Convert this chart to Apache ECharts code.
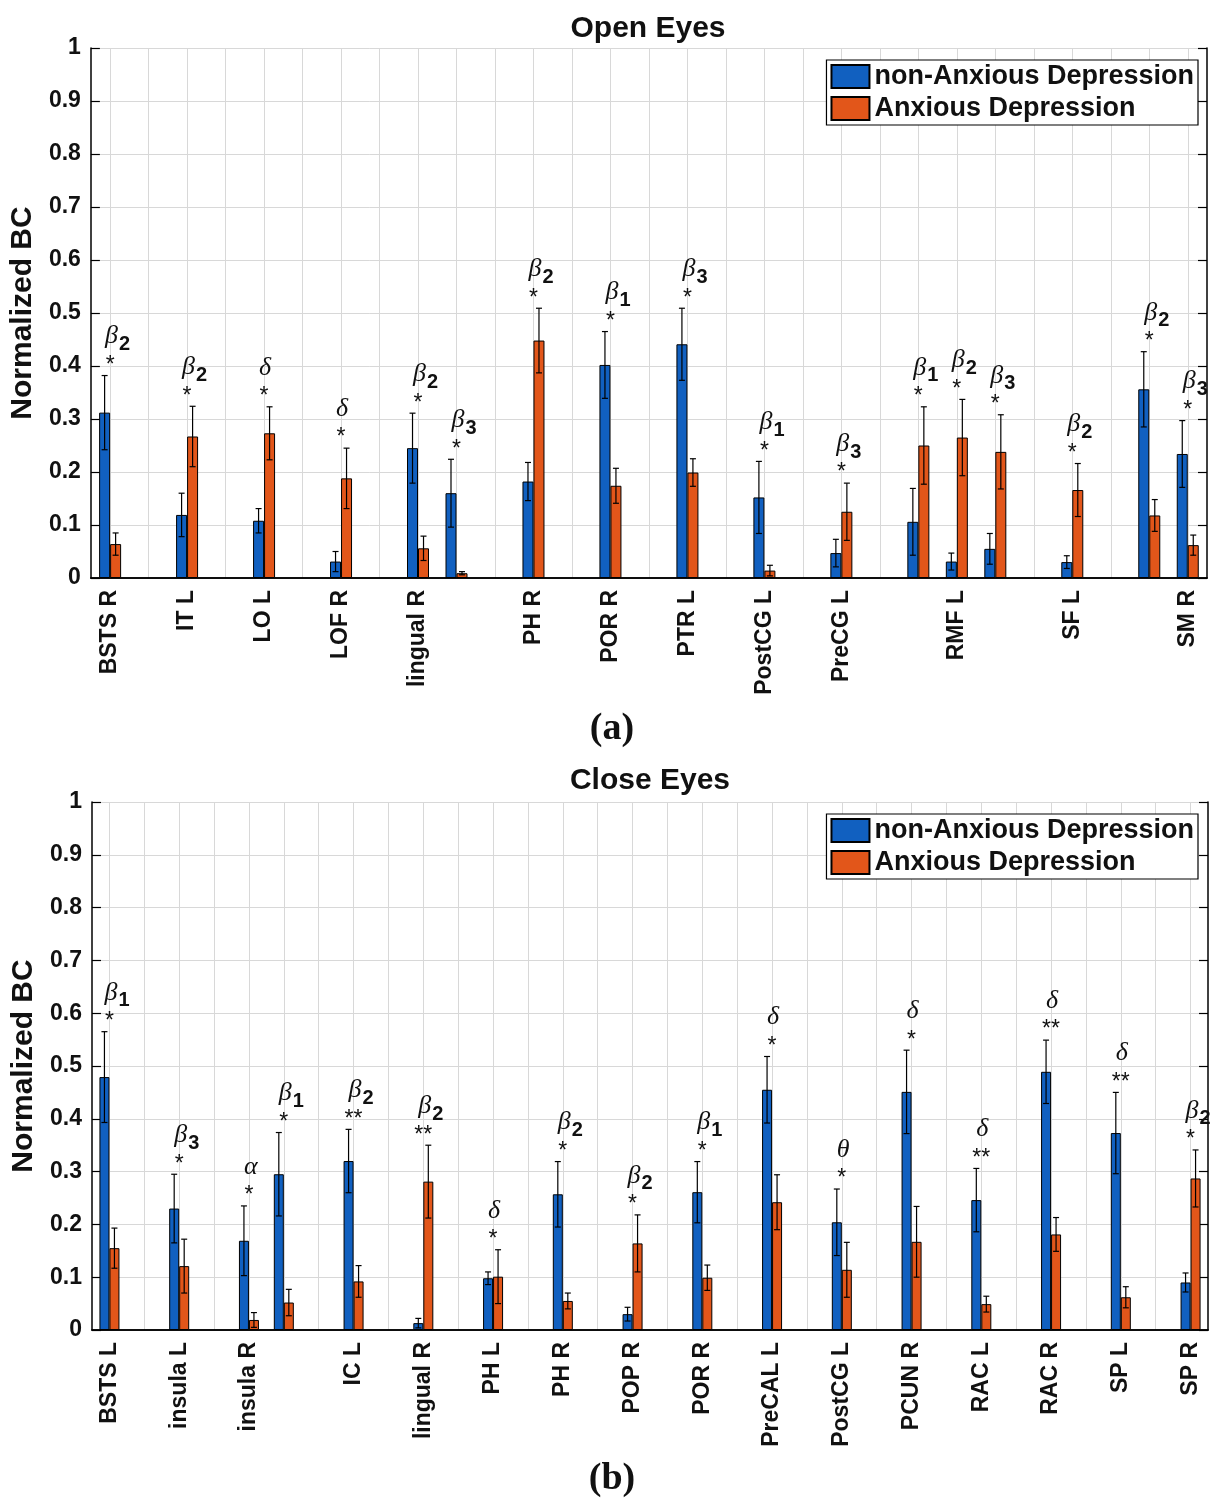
<!DOCTYPE html>
<html>
<head>
<meta charset="utf-8">
<script src="https://cdn.jsdelivr.net/npm/echarts@6/dist/echarts.min.js"></script>
<style>
html,body{margin:0;padding:0;background:#fff;}
#main{width:1210px;height:1501px;}
</style>
</head>
<body>
<div id="main"></div>
<script>
// ---- (a) Open Eyes ----
var openLabels = ['BSTS R','','IT L','','LO L','','LOF R','','lingual R','','','PH R','','POR R','','PTR L','','PostCG L','','PreCG L','','','RMF L','','','SF L','','','SM R'];
var openNonAnx = [0.312, null, 0.119, null, 0.108, null, 0.031, null, 0.245, 0.160, null, 0.182, null, 0.402, null, 0.441, null, 0.152, null, 0.047, null, 0.106, 0.031, 0.055, null, 0.030, null, 0.356, 0.234];
var openNonAnxErr = [0.070, null, 0.041, null, 0.023, null, 0.019, null, 0.066, 0.064, null, 0.036, null, 0.063, null, 0.068, null, 0.068, null, 0.026, null, 0.063, 0.016, 0.029, null, 0.012, null, 0.071, 0.063];
var openAnx = [0.064, null, 0.267, null, 0.273, null, 0.188, null, 0.056, 0.009, null, 0.448, null, 0.174, null, 0.199, null, 0.014, null, 0.125, null, 0.250, 0.265, 0.238, null, 0.166, null, 0.118, 0.062];
var openAnxErr = [0.021, null, 0.057, null, 0.050, null, 0.057, null, 0.023, 0.003, null, 0.061, null, 0.033, null, 0.026, null, 0.010, null, 0.054, null, 0.073, 0.072, 0.070, null, 0.050, null, 0.030, 0.019];
var openStars = ['*','','*','','*','','*','','*','*','','*','','*','','*','','*','','*','','*','*','*','','*','','*','*'];
var openLetters = ['β','','β','','δ','','δ','','β','β','','β','','β','','β','','β','','β','','β','β','β','','β','','β','β'];
var openSubs = ['2','','2','','','','','','2','3','','2','','1','','3','','1','','3','','1','2','3','','2','','2','3'];

// ---- (b) Close Eyes ----
var closeLabels = ['BSTS L','','insula L','','insula R','','','IC L','','lingual R','','PH L','','PH R','','POP R','','POR R','','PreCAL L','','PostCG L','','PCUN R','','RAC L','','RAC R','','SP L','','SP R'];
var closeNonAnx = [0.479, null, 0.230, null, 0.169, 0.295, null, 0.320, null, 0.013, null, 0.098, null, 0.257, null, 0.030, null, 0.261, null, 0.455, null, 0.204, null, 0.451, null, 0.246, null, 0.489, null, 0.373, null, 0.090];
var closeNonAnxErr = [0.086, null, 0.065, null, 0.066, 0.079, null, 0.060, null, 0.009, null, 0.012, null, 0.062, null, 0.013, null, 0.058, null, 0.063, null, 0.063, null, 0.079, null, 0.060, null, 0.060, null, 0.077, null, 0.018];
var closeAnx = [0.155, null, 0.121, null, 0.019, 0.052, null, 0.092, null, 0.281, null, 0.101, null, 0.055, null, 0.164, null, 0.099, null, 0.242, null, 0.114, null, 0.167, null, 0.049, null, 0.181, null, 0.062, null, 0.287];
var closeAnxErr = [0.038, null, 0.051, null, 0.014, 0.025, null, 0.030, null, 0.069, null, 0.051, null, 0.015, null, 0.054, null, 0.024, null, 0.052, null, 0.052, null, 0.067, null, 0.015, null, 0.032, null, 0.020, null, 0.054];
var closeStars = ['*','','*','','*','*','','**','','**','','*','','*','','*','','*','','*','','*','','*','','**','','**','','**','','*'];
var closeLetters = ['β','','β','','α','β','','β','','β','','δ','','β','','β','','β','','δ','','θ','','δ','','δ','','δ','','δ','','β'];
var closeSubs = ['1','','3','','','1','','2','','2','','','','2','','2','','1','','','','','','','','','','','','','','2'];

var yTicks = [0, 1, 0.1];
var seriesNames = ['non-Anxious Depression', 'Anxious Depression'];

var BLUE = '#1160c0';
var ORANGE = '#e2561a';
var SANS = '"Liberation Sans", Arial, sans-serif';
var SERIF = '"Liberation Serif", "Times New Roman", serif';
var GRID_COLOR = '#d8d8d8';

function barData(arr) {
  return arr.map(function (v) { return v == null ? '-' : v; });
}

function errData(a, ae, b, be) {
  var out = [];
  for (var i = 0; i < a.length; i++) {
    if (a[i] != null) out.push([i, a[i], ae[i], b[i], be[i]]);
  }
  return out;
}

function makeErrRender(stars, letters, subs, half) {
  return function (params, api) {
    var i = api.value(0);
    var cx = api.coord([i, 0])[0];
    var kids = [];
    var top = Infinity;
    var ls = {stroke: '#000', lineWidth: 1.2};
    [[1, -1], [3, 1]].forEach(function (p) {
      var v = api.value(p[0]), e = api.value(p[0] + 1);
      var x = cx + p[1] * half;
      var yHi = api.coord([i, v + e])[1];
      var yLo = api.coord([i, Math.max(v - e, 0)])[1];
      kids.push({type: 'line', shape: {x1: x, y1: yLo, x2: x, y2: yHi}, style: ls});
      kids.push({type: 'line', shape: {x1: x - 3, y1: yHi, x2: x + 3, y2: yHi}, style: ls});
      kids.push({type: 'line', shape: {x1: x - 3, y1: yLo, x2: x + 3, y2: yLo}, style: ls});
      top = Math.min(top, yHi);
    });
    // significance stars
    kids.push({type: 'text', style: {
      text: stars[i], x: cx, y: top - 10, align: 'center', verticalAlign: 'middle',
      fontSize: 23, fontFamily: SANS, fill: '#111'
    }});
    // greek letter + subscript
    kids.push({type: 'text', style: {
      text: letters[i], x: cx - 5, y: top - 39, align: 'left', verticalAlign: 'middle',
      fontSize: 26, fontFamily: SERIF, fontStyle: 'italic', fill: '#111'
    }});
    if (subs[i]) {
      kids.push({type: 'text', style: {
        text: subs[i], x: cx + 9, y: top - 31, align: 'left', verticalAlign: 'middle',
        fontSize: 20, fontFamily: SANS, fontWeight: 'bold', fill: '#111'
      }});
    }
    return {type: 'group', children: kids};
  };
}

function xAxes(gi, labels) {
  return [{
    gridIndex: gi, type: 'category', data: labels, position: 'bottom',
    axisLine: {lineStyle: {color: '#000', width: 1.5}},
    axisTick: {inside: true, length: 8, alignWithLabel: true, interval: 0, lineStyle: {color: '#000', width: 1.2}},
    axisLabel: {interval: 0, rotate: 90, margin: 12, fontSize: 23, fontWeight: 'bold', fontFamily: SANS, color: '#111'},
    splitLine: {show: true, interval: 0, alignWithLabel: true, lineStyle: {color: GRID_COLOR, width: 1}}
  }, {
    gridIndex: gi, type: 'category', data: labels, position: 'top',
    axisLine: {lineStyle: {color: '#000', width: 1.5}},
    axisTick: {inside: true, length: 8, alignWithLabel: true, interval: 0, lineStyle: {color: '#000', width: 1.2}},
    axisLabel: {show: false},
    splitLine: {show: false}
  }];
}

function yAxes(gi) {
  return [{
    gridIndex: gi, type: 'value', min: yTicks[0], max: yTicks[1], interval: yTicks[2], position: 'left',
    name: 'Normalized BC', nameLocation: 'middle', nameGap: 43,
    nameTextStyle: {fontSize: 30, fontWeight: 'bold', fontFamily: SANS, color: '#111'},
    axisLine: {show: true, lineStyle: {color: '#000', width: 1.5}},
    axisTick: {show: true, inside: true, length: 9, lineStyle: {color: '#000', width: 1.2}},
    axisLabel: {margin: 10, fontSize: 23, fontWeight: 'bold', fontFamily: SANS, color: '#111'},
    splitLine: {show: true, lineStyle: {color: GRID_COLOR, width: 1}}
  }, {
    gridIndex: gi, type: 'value', min: yTicks[0], max: yTicks[1], interval: yTicks[2], position: 'right',
    axisLine: {show: true, lineStyle: {color: '#000', width: 1.5}},
    axisTick: {show: true, inside: true, length: 9, lineStyle: {color: '#000', width: 1.2}},
    axisLabel: {show: false},
    splitLine: {show: false}
  }];
}

function legendAt(top) {
  return {
    orient: 'vertical', top: top, right: 12,
    icon: 'rect',
    itemWidth: 38, itemHeight: 23, itemGap: 5,
    backgroundColor: '#fff', borderColor: '#000', borderWidth: 1.2,
    padding: [3, 4, 3, 4],
    textStyle: {fontSize: 27, fontWeight: 'bold', fontFamily: SANS, color: '#111'},
    data: seriesNames
  };
}

function barSeries(xi, yi, name, data, color, w) {
  return {
    name: name, type: 'bar', xAxisIndex: xi, yAxisIndex: yi,
    barWidth: w, barGap: '0%', z: 2,
    itemStyle: {color: color, borderColor: '#000', borderWidth: 1},
    data: barData(data)
  };
}

var chart = echarts.init(document.getElementById('main'));
var option = {
  animation: false,
  backgroundColor: '#fff',
  title: [
    {text: 'Open Eyes', left: 648, top: 14, textAlign: 'center', padding: 0,
     textStyle: {fontSize: 30, fontWeight: 'bold', fontFamily: SANS, color: '#111'}},
    {text: 'Close Eyes', left: 650, top: 766, textAlign: 'center', padding: 0,
     textStyle: {fontSize: 30, fontWeight: 'bold', fontFamily: SANS, color: '#111'}},
    {text: '(a)', left: 612, top: 710, textAlign: 'center', padding: 0,
     textStyle: {fontSize: 38, fontWeight: 'bold', fontFamily: SERIF, color: '#111'}},
    {text: '(b)', left: 612, top: 1460, textAlign: 'center', padding: 0,
     textStyle: {fontSize: 38, fontWeight: 'bold', fontFamily: SERIF, color: '#111'}}
  ],
  legend: [legendAt(60), legendAt(814)],
  grid: [
    {left: 90, right: 3, top: 48, height: 530},
    {left: 92, right: 2, top: 802, height: 528}
  ],
  xAxis: xAxes(0, openLabels).concat(xAxes(1, closeLabels)),
  yAxis: yAxes(0).concat(yAxes(1)),
  series: [
    barSeries(0, 0, seriesNames[0], openNonAnx, BLUE, 11),
    barSeries(0, 0, seriesNames[1], openAnx, ORANGE, 11),
    {
      type: 'custom', xAxisIndex: 0, yAxisIndex: 0, z: 3, silent: true,
      renderItem: makeErrRender(openStars, openLetters, openSubs, 5.5),
      data: errData(openNonAnx, openNonAnxErr, openAnx, openAnxErr)
    },
    barSeries(2, 2, seriesNames[0], closeNonAnx, BLUE, 10),
    barSeries(2, 2, seriesNames[1], closeAnx, ORANGE, 10),
    {
      type: 'custom', xAxisIndex: 2, yAxisIndex: 2, z: 3, silent: true,
      renderItem: makeErrRender(closeStars, closeLetters, closeSubs, 5),
      data: errData(closeNonAnx, closeNonAnxErr, closeAnx, closeAnxErr)
    }
  ]
};
chart.setOption(option);
</script>
</body>
</html>
